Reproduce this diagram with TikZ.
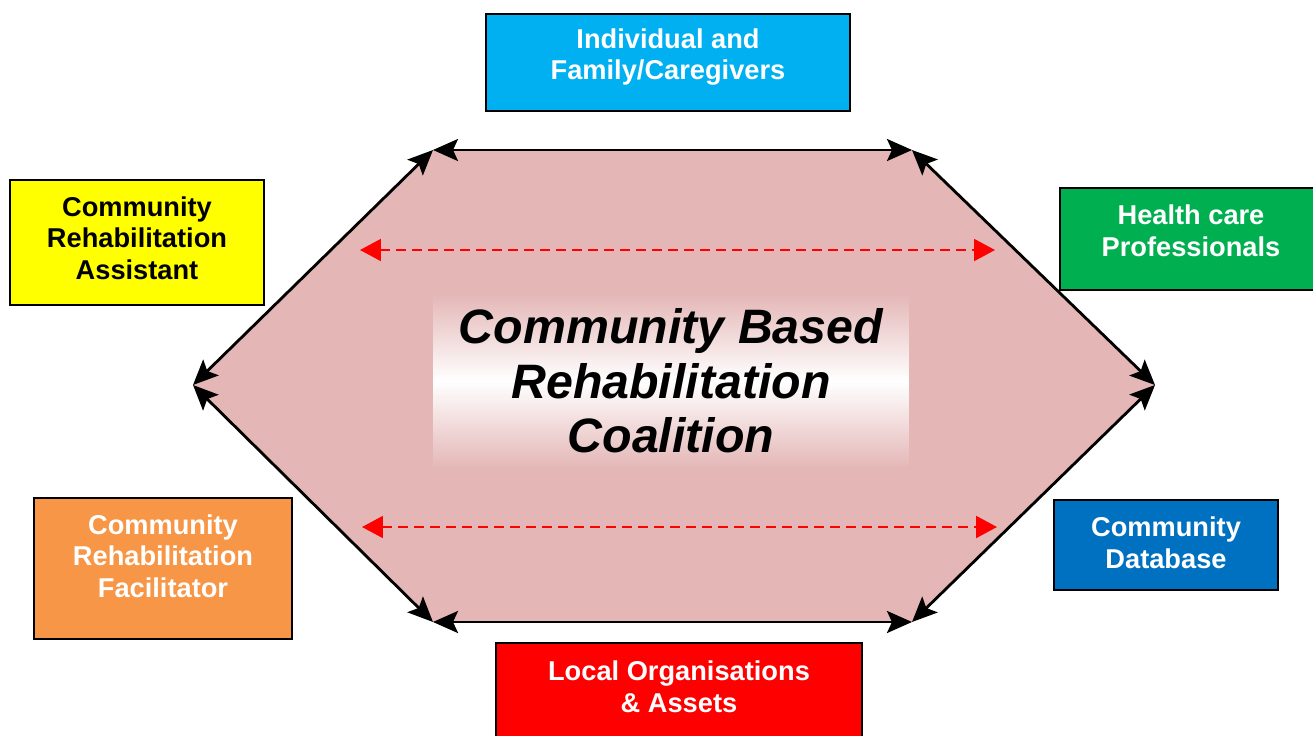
\documentclass[tikz,border=0pt]{standalone}
\usepackage{fontspec}
\setmainfont{Liberation Sans}
\usetikzlibrary{arrows.meta}
\definecolor{hexpink}{HTML}{E4B6B6}
\definecolor{cbrcyan}{HTML}{00B0F0}
\definecolor{cbryellow}{HTML}{FFFF00}
\definecolor{cbrgreen}{HTML}{00B050}
\definecolor{cbrorange}{HTML}{F79646}
\definecolor{cbrblue}{HTML}{0070C0}
\definecolor{cbrred}{HTML}{FF0000}
\begin{document}
\begin{tikzpicture}[x=0.02cm, y=-0.02cm,
  partner/.style={draw=black, line width=1.2pt, inner sep=0pt},
  boxtext/.style={font=\bfseries\fontsize{15.5}{18}\selectfont, align=center, text=white},
  rim/.style={line width=1.6pt, {Stealth[length=0.5cm,width=0.44cm,inset=0.1cm]}-{Stealth[length=0.5cm,width=0.44cm,inset=0.1cm]}},
  link/.style={red, line width=1.2pt, dash pattern=on 5.7pt off 3.4pt, {Triangle[length=0.42cm,width=0.44cm]}-{Triangle[length=0.42cm,width=0.44cm]}}]
\useasboundingbox (0,0) rectangle (1313,735);
% hexagon corners
\coordinate (tl) at (433,150);
\coordinate (tr) at (912,150);
\coordinate (r) at (1155,385);
\coordinate (br) at (912,622);
\coordinate (bl) at (433,622);
\coordinate (l) at (193,385);
\fill [hexpink] (tl) -- (tr) -- (r) -- (br) -- (bl) -- (l) -- cycle;
\node [minimum width=9.5cm, minimum height=3.5cm, inner sep=0pt,
       top color=hexpink, bottom color=hexpink, middle color=white,
       font=\bfseries\itshape\fontsize{27.5}{30.9}\selectfont, align=center]
       (core) at (671,381) {Community Based\\Rehabilitation\\Coalition};
\draw [rim] (tl) -- (tr);
\draw [rim] (tr) -- (r);
\draw [rim] (r) -- (br);
\draw [rim] (br) -- (bl);
\draw [rim] (bl) -- (l);
\draw [rim] (l) -- (tl);
% dashed links across
\coordinate (ua) at (360,250);
\coordinate (ub) at (995,250);
\coordinate (la) at (362,527);
\coordinate (lb) at (997,527);
\draw [link] (ua) -- (ub);
\draw [link] (la) -- (lb);
% partner boxes
\node [partner, fill=cbrcyan, minimum width=7.28cm, minimum height=1.94cm] (indiv) at (668,62.5) {};
\node [boxtext] (indivtxt) at (668,57) {Individual and\\Family/Caregivers};
\node [partner, fill=cbryellow, minimum width=5.08cm, minimum height=2.5cm] (assist) at (137,242.5) {};
\node [boxtext, text=black] (assisttxt) at (137,238) {Community\\Rehabilitation\\Assistant};
\node [partner, fill=cbrgreen, minimum width=5.24cm, minimum height=2.04cm] (health) at (1191,239) {};
\node [boxtext] (healthtxt) at (1191,231) {Health care\\Professionals};
\node [partner, fill=cbrorange, minimum width=5.16cm, minimum height=2.82cm] (facil) at (163,568.5) {};
\node [boxtext] (faciltxt) at (163,556) {Community\\Rehabilitation\\Facilitator};
\node [partner, fill=cbrblue, minimum width=4.48cm, minimum height=1.8cm] (data) at (1166,545) {};
\node [boxtext] (datatxt) at (1166,543) {Community\\Database};
\node [partner, fill=cbrred, minimum width=7.32cm, minimum height=2.2cm] (local) at (679,698) {};
\node [boxtext] (localtxt) at (679,687) {Local Organisations\\\& Assets};
\end{tikzpicture}
\end{document}
